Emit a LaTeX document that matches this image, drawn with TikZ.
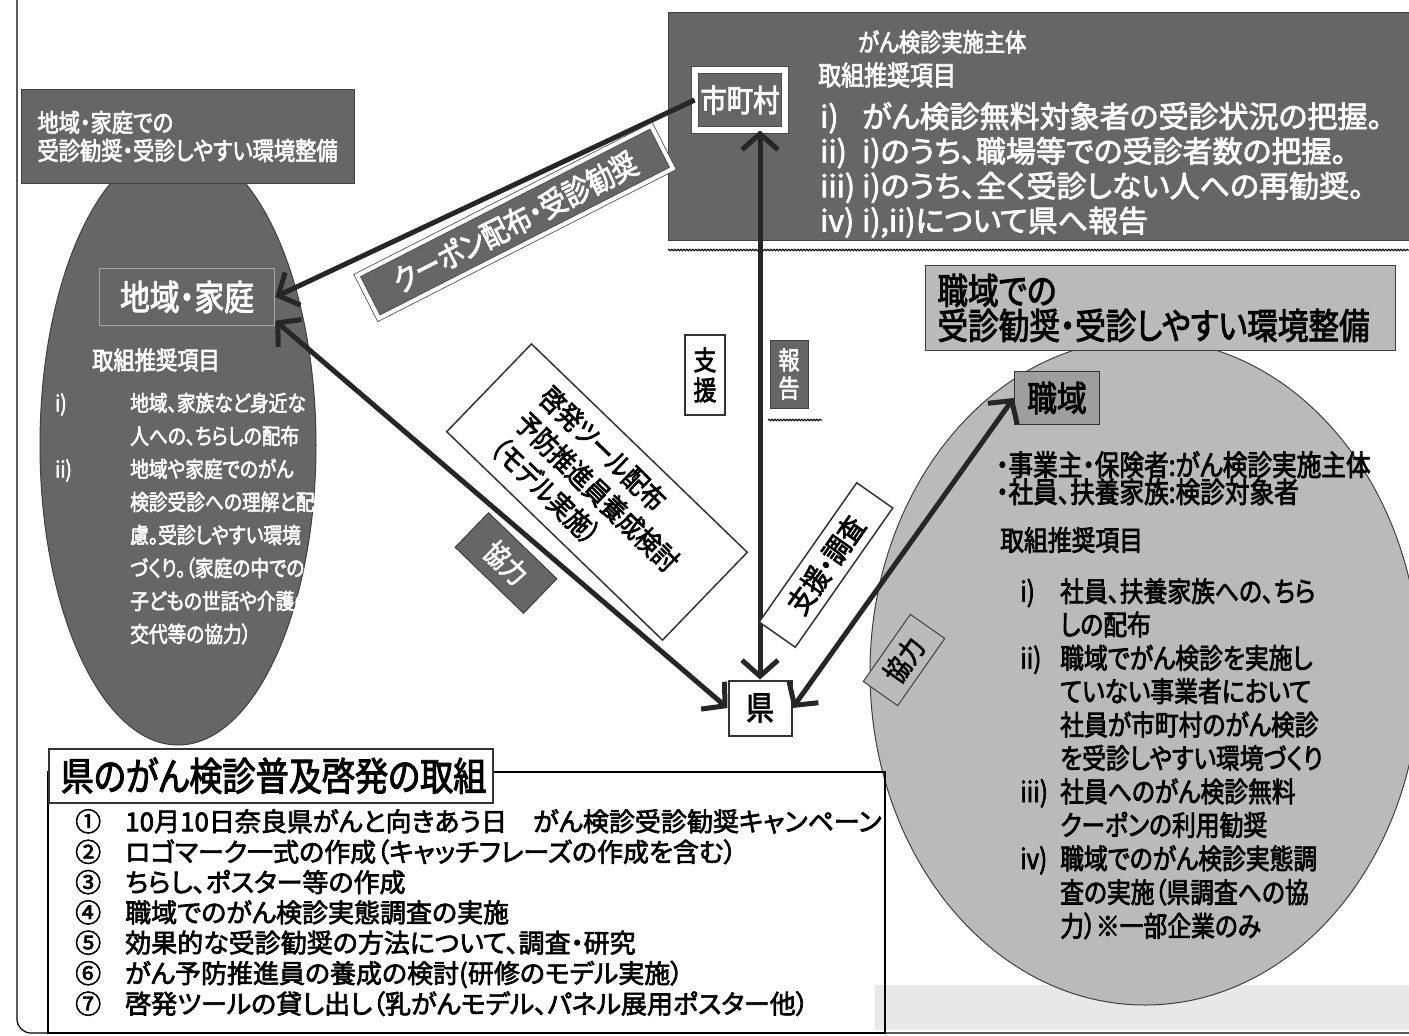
\documentclass[tikz,border=0pt]{standalone}
\usepackage{fontspec}
\setmainfont{Noto Sans CJK JP}
\newfontfamily\jp{Noto Sans CJK JP}[FakeStretch=0.85, FakeBold=2.5, RawFeature=+palt]
\newfontfamily\jpw{Noto Sans CJK JP}[FakeBold=2.5, RawFeature=+palt]
\usetikzlibrary{arrows.meta}
\usetikzlibrary{decorations.pathmorphing}

\definecolor{darkfill}{gray}{0.40}
\definecolor{midfill}{gray}{0.62}
\definecolor{lightfill}{gray}{0.73}
\newcommand{\jsize}[2]{\fontsize{#1}{#2}\selectfont}

\begin{document}
\begin{tikzpicture}[x=1pt, y=-1pt,
  >={Straight Barb[length=16pt,width=36pt]},
  darkbox/.style={draw=black!75, fill=darkfill, text=white, line width=1pt},
  lightbox/.style={draw=black!75, fill=lightfill, text=black, line width=1pt},
  whitebox/.style={draw=black!80, fill=white, text=black, line width=1.5pt},
  arr/.style={line width=5pt, draw=black!85},
  txt/.style={inner sep=0pt}]

  \useasboundingbox (0,0) rectangle (1409,1036);

  % Page frame
  \draw[line width=1.2pt, rounded corners=14pt] (17,0) -- (17,1033) -- (1409,1033);

  % Speckled band under the right ellipse
  \fill[black!9] (875,985) rectangle (1409,1030);

  % Ellipses
  \filldraw[fill=darkfill, draw=black!75, line width=1pt] (178,445) ellipse [x radius=138, y radius=300];
  \filldraw[fill=lightfill, draw=black!75, line width=1pt] (1145,672) ellipse [x radius=275, y radius=333];

  % Left side: community and family
  \node[darkbox, anchor=north west, minimum width=333pt, minimum height=94pt,
        text width=301pt, inner xsep=16pt, align=left, font={\jp\jsize{25}{28}}]
        (chiikititle) at (21,89) {地域・家庭での\\受診勧奨・受診しやすい環境整備};
  \node[darkbox, draw=black!35, line width=1.5pt, minimum width=175pt, minimum height=57pt,
        font={\jp\jsize{35}{35}}] (chiiki) at (187,297) {地域・家庭};
  \node[txt, anchor=west, text=white, font={\jp\jsize{25}{30}}] (chiikihead) at (92,360) {取組推奨項目};
  \node[txt, anchor=north west, text=white, font={\jp\jsize{22}{33}}] (chiikilist) at (55,388) {%
    \begin{tabular}{@{}p{75pt}@{}l@{}}
      i)  & 地域、家族など身近な\\
          & 人への、ちらしの配布\\
      ii) & 地域や家庭でのがん\\
          & 検診受診への理解と配\\
          & 慮。受診しやすい環境\\
          & づくり。（家庭の中での\\
          & 子どもの世話や介護の\\
          & 交代等の協力）
    \end{tabular}};

  % Top right: municipalities
  \node[darkbox, anchor=north west, minimum width=745pt, minimum height=228pt] (sichotitle) at (668,12) {};
  \node[txt, anchor=west, text=white, font={\jp\jsize{25}{25}}] (sichohead) at (858,42) {がん検診実施主体};
  \node[txt, anchor=west, text=white, font={\jp\jsize{27}{27}}] (sichosub) at (818,75) {取組推奨項目};
  \node[fill=darkfill, draw=black!70, double=white, double distance=6pt, line width=0.8pt,
        text=white, minimum width=90pt, minimum height=60pt, font={\jp\jsize{31}{31}}]
        (sicho) at (740,100) {市町村};
  \node[txt, anchor=north west, text=white, font={\jpw\jsize{30}{31.5}}] (sicholist) at (820,102) {%
    \begin{tabular}{@{}p{42pt}@{}l@{}}
      i)   & がん検診無料対象者の受診状況の把握。\\
      ii)  & i)のうち、職場等での受診者数の把握。\\
      iii) & i)のうち、全く受診しない人への再勧奨。\\
      iv)  & i),ii)について県へ報告
    \end{tabular}};
  \draw[decorate, decoration={snake, amplitude=0.8pt, segment length=3pt}, line width=1pt]
    (668,250) -- (1409,250);

  % Right side: workplaces
  \node[lightbox, anchor=north west, minimum width=470pt, minimum height=85pt,
        text width=446pt, inner xsep=12pt, align=left, font={\jp\jsize{36}{35}}]
        (shokuikititle) at (925,265) {職域での\\受診勧奨・受診しやすい環境整備};
  \node[fill=midfill, draw=black!80, line width=1.5pt, minimum width=85pt, minimum height=53pt,
        font={\jp\jsize{35}{35}}] (shokuiki) at (1057,398) {職域};
  \node[txt, anchor=north west, align=left, font={\jp\jsize{29}{27}}] (shokuikirole) at (996,451)
    {・事業主・保険者:がん検診実施主体\\・社員、扶養家族:検診対象者};
  \node[txt, anchor=west, font={\jp\jsize{28}{30}}] (shokuikihead) at (1000,540) {取組推奨項目};
  \node[txt, anchor=north west, font={\jp\jsize{28}{32.5}}] (shokuikilist) at (1020,578) {%
    \begin{tabular}{@{}p{40pt}@{}l@{}}
      i)   & 社員、扶養家族への、ちら\\
           & しの配布\\
      ii)  & 職域でがん検診を実施し\\
           & ていない事業者において\\
           & 社員が市町村のがん検診\\
           & を受診しやすい環境づくり\\
      iii) & 社員へのがん検診無料\\
           & クーポンの利用勧奨\\
      iv)  & 職域でのがん検診実態調\\
           & 査の実施（県調査への協\\
           & 力）※一部企業のみ
    \end{tabular}};

  % Prefecture
  \node[whitebox, line width=2pt, minimum width=63pt, minimum height=55pt,
        font={\jp\jsize{33}{33}}] (ken) at (760,708) {県};

  % Bottom: prefecture's activities
  \draw[line width=1.5pt] (48,772) rectangle (885,1033);
  \node[whitebox, anchor=north west, minimum width=444pt, minimum height=54pt,
        text width=420pt, inner xsep=12pt, align=left, font={\jp\jsize{39}{39}}]
        (kentitle) at (48,748) {県のがん検診普及啓発の取組};
  \node[txt, anchor=north west, font={\jpw\jsize{26}{27.5}}] (kenlist) at (75,809) {%
    \begin{tabular}{@{}p{50pt}@{}l@{}}
      ① & 10月10日奈良県がんと向きあう日　がん検診受診勧奨キャンペーン\\
      ② & ロゴマーク一式の作成（キャッチフレーズの作成を含む）\\
      ③ & ちらし、ポスター等の作成\\
      ④ & 職域でのがん検診実態調査の実施\\
      ⑤ & 効果的な受診勧奨の方法について、調査・研究\\
      ⑥ & がん予防推進員の養成の検討(研修のモデル実施）\\
      ⑦ & 啓発ツールの貸し出し（乳がんモデル、パネル展用ポスター他）
    \end{tabular}};

  % Arrows
  \draw[arr, ->] (sicho.west) -- (chiiki.east);
  \draw[arr, <->] (chiiki.-15) -- (ken.west);
  \draw[arr, <->] (ken.north) -- (ken.north |- sicho.south);
  \draw[arr, <->] (ken.east) -- (shokuiki.west);

  % Arrow labels
  \node[fill=darkfill, draw=black!70, double=white, double distance=4pt, line width=0.8pt,
        text=white, rotate=27, minimum width=330pt, minimum height=48pt,
        font={\jp\jsize{31}{31}}] (coupon) at (515,222) {クーポン配布・受診勧奨};
  \node[whitebox, rotate=-44, minimum width=300pt, minimum height=122pt, align=left,
        font={\jp\jsize{28}{35}}] (keihatsu) at (597,492) {啓発ツール配布\\予防推進員養成検討\\（モデル実施）};
  \node[darkbox, rotate=-44, minimum width=95pt, minimum height=48pt,
        font={\jp\jsize{28}{28}}] (kyoryokuL) at (506,563) {協力};
  \node[whitebox, minimum width=40pt, minimum height=80pt, align=center,
        font={\jp\jsize{27}{30}}] (shien) at (705,375) {支\\援};
  \node[darkbox, minimum width=38pt, minimum height=68pt, align=center,
        font={\jp\jsize{25}{28}}] (hokoku) at (789,374) {報\\告};
  \draw[decorate, decoration={snake, amplitude=0.8pt, segment length=3pt}, line width=1pt]
    (768,420) -- (822,420);
  \node[whitebox, rotate=55, minimum width=170pt, minimum height=44pt,
        font={\jp\jsize{29}{29}}] (shienchosa) at (826,565) {支援・調査};
  \node[lightbox, rotate=55, minimum width=82pt, minimum height=42pt,
        font={\jp\jsize{28}{28}}] (kyoryokuR) at (904,660) {協力};

\end{tikzpicture}
\end{document}
